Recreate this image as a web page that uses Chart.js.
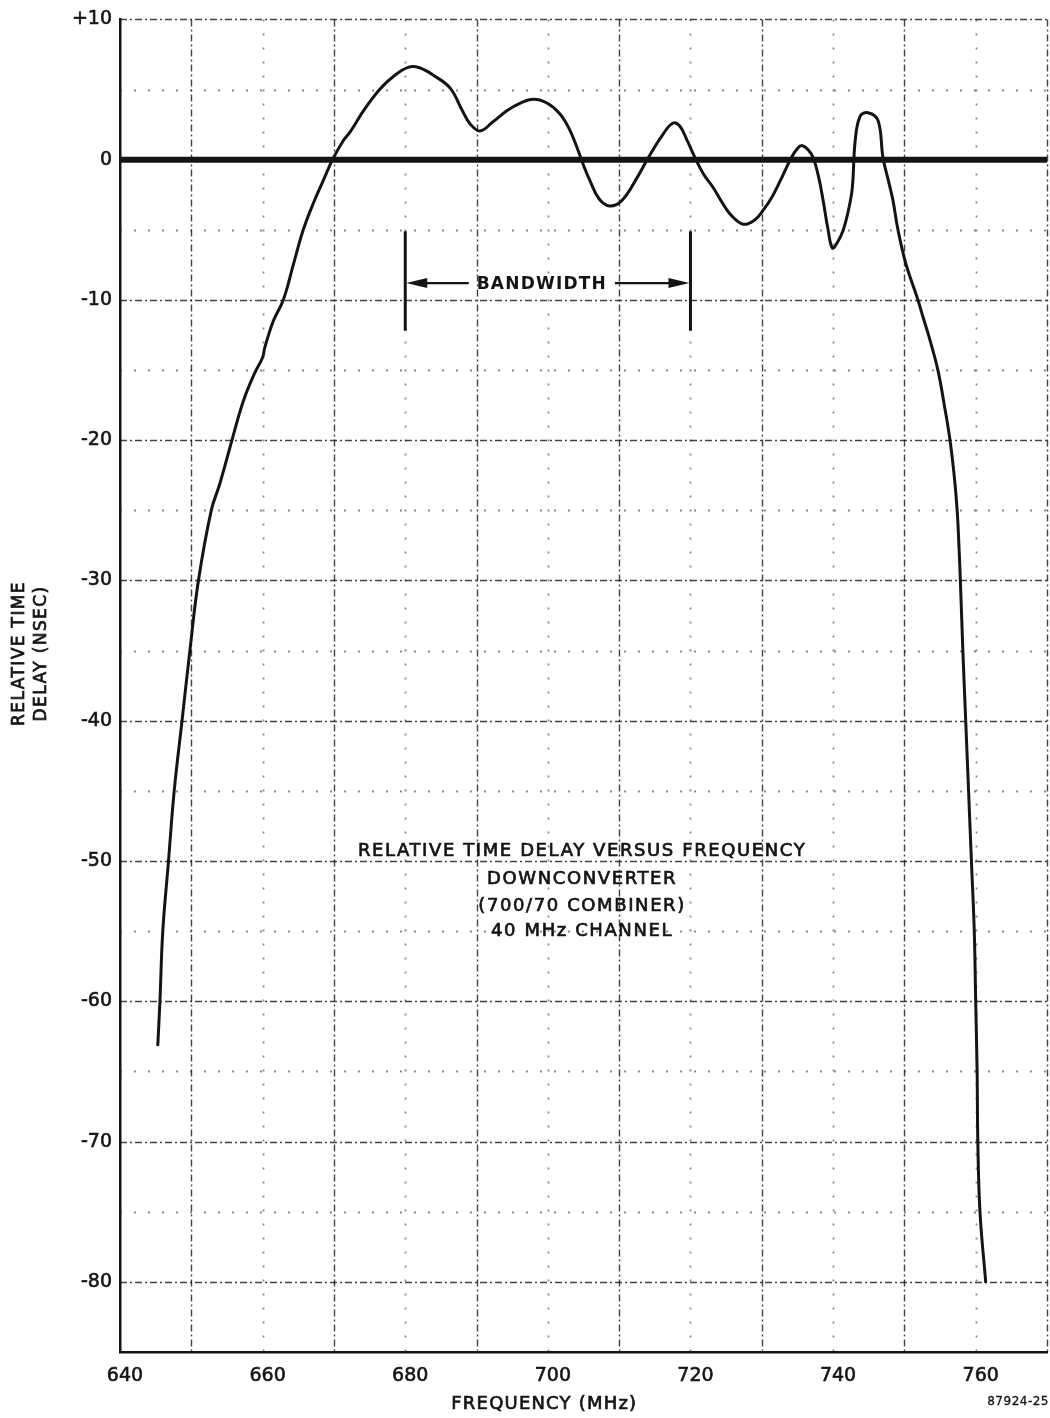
<!DOCTYPE html>
<html>
<head>
<meta charset="utf-8">
<title>Relative Time Delay versus Frequency</title>
<script src="https://cdn.jsdelivr.net/npm/chart.js@4.4.1/dist/chart.umd.min.js"></script>
<style>
  html, body { margin: 0; padding: 0; background: #ffffff; }
  canvas { display: block; }
</style>
</head>
<body>
<canvas id="delayChart" width="1050" height="1418"></canvas>
<script>
// Measured group delay of the downconverter, 40 MHz channel
const freqMHz = [
  645.3, 645.6, 646.0, 646.8, 647.6, 648.7, 649.8, 651.0, 652.8, 654.0,
  655.7, 657.3, 658.9, 660.0, 660.3, 661.5, 662.9, 664.3, 665.7, 667.2,
  668.5, 669.8, 671.3, 672.3, 674.3, 676.5, 678.5, 680.5, 682.0, 684.0,
  686.3, 688.0, 689.1, 690.5, 692.3, 694.3, 696.0, 698.0, 700.0, 701.7,
  703.0, 704.1, 705.0, 705.9, 707.2, 708.7, 710.4, 712.5, 714.1, 716.0,
  717.5, 718.5, 719.6, 720.4, 721.8, 723.2, 724.5, 725.6, 727.4, 729.0,
  730.2, 731.5, 732.6, 734.0, 735.0, 735.7, 736.5, 737.2, 738.0, 738.6,
  739.3, 739.9, 740.6, 741.4, 742.2, 742.7, 743.1, 743.8, 744.9, 746.3,
  747.0, 747.9, 748.4, 749.1, 750.2, 751.9, 752.6, 753.5, 754.7, 755.6,
  756.4, 757.0, 757.4, 757.65, 757.85, 758.2, 758.6, 759.0, 759.4, 759.8,
  760.0, 760.2, 760.3, 760.6, 761.4
];
const delayNs = [
  -63.1, -60.0, -55.0, -50.0, -45.0, -40.0, -35.0, -30.0, -25.0, -23.1,
  -20.0, -17.2, -15.2, -14.1, -13.4, -11.5, -10.0, -7.5, -5.0, -3.0,
  -1.5, 0.0, 1.35, 2.0, 3.6, 5.05, 6.0, 6.6, 6.55, 6.0,
  5.1, 3.5, 2.55, 2.05, 2.7, 3.5, 4.0, 4.3, 4.0, 3.25,
  2.2, 0.85, -0.4, -1.5, -2.8, -3.3, -2.9, -1.3, 0.15, 1.7,
  2.6, 2.4, 1.3, 0.4, -1.0, -2.0, -3.1, -3.9, -4.6, -4.3,
  -3.6, -2.6, -1.5, 0.0, 0.8, 1.0, 0.7, 0.15, -1.3, -2.9,
  -5.0, -6.3, -5.9, -5.05, -3.5, -2.0, 1.35, 3.1, 3.35, 2.8,
  0.15, -1.8, -2.9, -5.0, -7.4, -10.0, -11.2, -12.7, -15.0, -17.5,
  -20.0, -22.6, -25.0, -27.5, -30.0, -35.0, -40.0, -45.0, -50.0, -55.0,
  -60.0, -65.0, -70.0, -75.0, -80.0
];

// Zero-delay reference line
const referenceFreq = [640, 770];
const referenceDelay = [0, 0];

// Axis ranges and labelled ticks
const freqRange = [640, 770];
const delayRange = [-85, 10];
const xTickValues = [640, 660, 680, 700, 720, 740, 760];
const yTickValues = [10, 0, -10, -20, -30, -40, -50, -60, -70, -80];

// Bandwidth marker (MHz)
const bandwidthEdges = [680, 720];
const bandwidthLabel = 'BANDWIDTH';

const titleLines = [
  'RELATIVE TIME DELAY VERSUS FREQUENCY',
  'DOWNCONVERTER',
  '(700/70 COMBINER)',
  '40 MHz CHANNEL'
];
const xAxisTitle = 'FREQUENCY (MHz)';
const yAxisTitle = ['RELATIVE TIME', 'DELAY (NSEC)'];
const figureNumber = '87924-25';

const FONT = '"DejaVu Sans", "Liberation Sans", sans-serif';
const INK = '#141414';

function setSpacing(ctx, px) {
  if ('letterSpacing' in ctx) ctx.letterSpacing = px + 'px';
}

// Slightly heavy lettering, like the typed labels
function inkText(ctx, text, x, y) {
  ctx.fillText(text, x, y);
  ctx.strokeText(text, x, y);
}

// Recorder-paper grid: dash-dot lines on the odd 10 MHz / every 10 ns, dotted in between
const paperGrid = {
  id: 'paperGrid',
  beforeDatasetsDraw(chart) {
    const { ctx, chartArea: a, scales: { x, y } } = chart;
    ctx.save();
    const heavy = () => { ctx.strokeStyle = 'rgba(20,20,20,0.8)'; ctx.lineWidth = 1.4; ctx.setLineDash([7, 3, 2, 3]); };
    const light = () => { ctx.strokeStyle = 'rgba(40,40,40,0.55)'; ctx.lineWidth = 1.8; ctx.setLineDash([2, 12]); };
    for (let f = freqRange[0] + 10; f <= freqRange[1]; f += 10) {
      ((f - 650) / 10) % 2 === 0 ? heavy() : light();
      const px = Math.round(x.getPixelForValue(f)) + 0.5;
      ctx.beginPath(); ctx.moveTo(px, a.top); ctx.lineTo(px, a.bottom); ctx.stroke();
    }
    for (let v = delayRange[1]; v > delayRange[0]; v -= 5) {
      if (v === 0) continue;
      (v % 10 === 0) ? heavy() : light();
      const py = Math.round(y.getPixelForValue(v)) + 0.5;
      ctx.beginPath(); ctx.moveTo(a.left, py); ctx.lineTo(a.right, py); ctx.stroke();
    }
    ctx.restore();
  },
  afterDatasetsDraw(chart) {
    const { ctx, scales: { x, y } } = chart;
    ctx.save();
    ctx.fillStyle = INK;
    ctx.strokeStyle = INK;
    ctx.setLineDash([]);

    // Bandwidth bracket with arrows
    const xl = x.getPixelForValue(bandwidthEdges[0]);
    const xr = x.getPixelForValue(bandwidthEdges[1]);
    const yTop = y.getPixelForValue(-5.1);
    const yBot = y.getPixelForValue(-12.2);
    const yArr = y.getPixelForValue(-8.8);
    ctx.lineWidth = 3;
    ctx.beginPath();
    ctx.moveTo(xl, yTop); ctx.lineTo(xl, yBot);
    ctx.moveTo(xr, yTop); ctx.lineTo(xr, yBot);
    ctx.stroke();
    ctx.font = 'bold 17px ' + FONT;
    setSpacing(ctx, 1.2);
    ctx.textAlign = 'center';
    ctx.textBaseline = 'middle';
    const xc = x.getPixelForValue((bandwidthEdges[0] + bandwidthEdges[1]) / 2) - 6;
    const tw = ctx.measureText(bandwidthLabel).width;
    ctx.fillText(bandwidthLabel, xc, yArr + 1);
    ctx.lineWidth = 2.2;
    ctx.beginPath();
    ctx.moveTo(xl + 14, yArr); ctx.lineTo(xc - tw / 2 - 8, yArr);
    ctx.moveTo(xc + tw / 2 + 8, yArr); ctx.lineTo(xr - 14, yArr);
    ctx.stroke();
    ctx.beginPath();
    ctx.moveTo(xl + 1, yArr); ctx.lineTo(xl + 22, yArr - 5); ctx.lineTo(xl + 22, yArr + 5); ctx.closePath();
    ctx.moveTo(xr - 1, yArr); ctx.lineTo(xr - 22, yArr - 5); ctx.lineTo(xr - 22, yArr + 5); ctx.closePath();
    ctx.fill();

    // Chart caption inside the plot
    ctx.lineWidth = 0.7;
    ctx.font = '18px ' + FONT;
    setSpacing(ctx, 1.6);
    const capX = x.getPixelForValue(704.8);
    const capY = [-49.3, -51.3, -53.2, -55.0];
    titleLines.forEach((t, i) => inkText(ctx, t, capX, y.getPixelForValue(capY[i])));

    // Axis titles
    ctx.font = '18px ' + FONT;
    setSpacing(ctx, 1.2);
    inkText(ctx, xAxisTitle, x.getPixelForValue(699.5), 1404);
    ctx.save();
    ctx.translate(20, y.getPixelForValue(-35.2));
    ctx.rotate(-Math.PI / 2);
    ctx.font = '17px ' + FONT;
    setSpacing(ctx, 1.4);
    inkText(ctx, yAxisTitle[0], 0, 0);
    inkText(ctx, yAxisTitle[1], 0, 22);
    ctx.restore();

    // Figure number
    ctx.lineWidth = 0.3;
    ctx.font = '12px ' + FONT;
    setSpacing(ctx, 0.5);
    ctx.textAlign = 'right';
    inkText(ctx, figureNumber, 1049, 1402);
    ctx.restore();
  }
};

const curvePoints = freqMHz.map((f, i) => ({ x: f, y: delayNs[i] }));
const referencePoints = referenceFreq.map((f, i) => ({ x: f, y: referenceDelay[i] }));

new Chart(document.getElementById('delayChart'), {
  type: 'line',
  data: {
    datasets: [
      {
        data: referencePoints,
        borderColor: INK,
        borderWidth: 6,
        pointRadius: 0,
        tension: 0
      },
      {
        data: curvePoints,
        borderColor: INK,
        borderWidth: 3,
        pointRadius: 0,
        tension: 0.4,
        borderCapStyle: 'round',
        borderJoinStyle: 'round'
      }
    ]
  },
  options: {
    responsive: false,
    animation: false,
    devicePixelRatio: 1,
    layout: { padding: { top: 17, right: 3, bottom: 0, left: 0 } },
    plugins: { legend: { display: false }, tooltip: { enabled: false } },
    scales: {
      x: {
        type: 'linear',
        position: 'bottom',
        min: freqRange[0],
        max: freqRange[1],
        grid: { display: false, drawTicks: false },
        border: { display: true, color: INK, width: 2.5 },
        afterBuildTicks: s => { s.ticks = xTickValues.map(v => ({ value: v })); },
        afterFit: s => { s.height = 66; },
        ticks: {
          color: INK,
          textStrokeColor: INK,
          textStrokeWidth: 0.6,
          padding: 13,
          labelOffset: 5,
          maxRotation: 0,
          autoSkip: false,
          font: { family: FONT, size: 19 },
          callback: v => String(v)
        }
      },
      y: {
        type: 'linear',
        position: 'left',
        min: delayRange[0],
        max: delayRange[1],
        grid: { display: false, drawTicks: false },
        border: { display: true, color: INK, width: 2.5 },
        afterBuildTicks: s => { s.ticks = yTickValues.map(v => ({ value: v })); },
        afterFit: s => { s.width = 120; },
        ticks: {
          color: INK,
          textStrokeColor: INK,
          textStrokeWidth: 0.6,
          padding: 8,
          autoSkip: false,
          font: { family: FONT, size: 19 },
          callback: v => (v > 0 ? '+' + v : String(v))
        }
      }
    }
  },
  plugins: [paperGrid]
});
</script>
</body>
</html>
